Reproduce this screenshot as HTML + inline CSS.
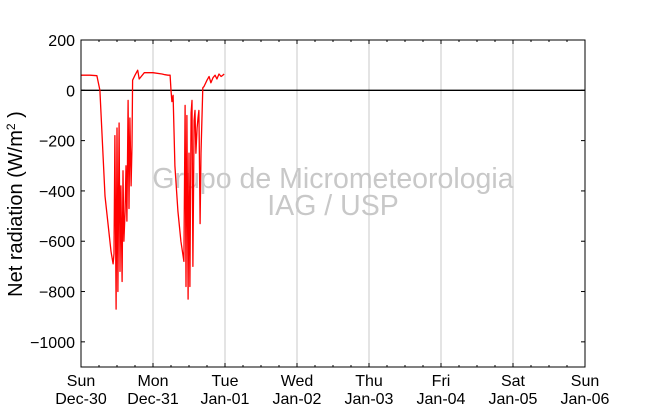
<!DOCTYPE html>
<html><head><meta charset="utf-8"><style>
body{margin:0;background:#fff;}
svg{display:block;font-family:"Liberation Sans","DejaVu Sans",sans-serif;}
</style></head><body>
<svg id="c" width="650" height="409"></svg>
<script>
const hours=[0,3,5.3,6.3,8,10,10.7,11,11.3,11.7,12,12.3,12.7,13,13.3,13.7,14,14.3,14.7,15,15.3,15.7,16,16.3,16.7,17,17.2,18,18.9,19.4,21.1,24,27,28,29,29.7,30,30.3,30.7,31.3,32.3,33.3,34.3,34.7,35,35.3,35.7,36,36.3,36.7,37,37.3,37.7,38,38.3,38.7,39,39.3,39.7,40,40.6,41,42,42.7,43.3,44,44.7,45.3,46,46.7,47.3,47.7];
const values=[60,60,58,0,-420,-640,-690,-650,-180,-870,-150,-800,-130,-720,-380,-760,-320,-600,-480,-300,-520,-40,-470,-110,-380,-220,40,60,80,45,70,70,65,62,60,60,0,-45,-20,-300,-480,-600,-680,-60,-780,-100,-830,-250,-780,-90,-40,-700,-120,-80,-250,-150,-110,-80,-530,-250,10,15,40,55,30,50,60,45,65,55,60,65];
const yTicks=[200,0,-200,-400,-600,-800,-1000];
const yTickLabels=["200","0","\u2212200","\u2212400","\u2212600","\u2212800","\u22121000"];
const dayLabels1=["Sun","Mon","Tue","Wed","Thu","Fri","Sat","Sun"];
const dayLabels2=["Dec-30","Dec-31","Jan-01","Jan-02","Jan-03","Jan-04","Jan-05","Jan-06"];
const X0=81,X1=585,Y0=40,Y1=367,ymin=-1100,ymax=200,hmax=168;
const xs=h=>X0+h*(X1-X0)/hmax;
const ys=v=>Y0+(ymax-v)*(Y1-Y0)/(ymax-ymin);
const svg=document.getElementById('c');const NS='http://www.w3.org/2000/svg';
function mk(t,a,txt){const e=document.createElementNS(NS,t);for(const k in a)e.setAttribute(k,a[k]);if(txt!==undefined)e.textContent=txt;svg.appendChild(e);return e;}
dayLabels1.forEach((d,i)=>{if(i>0&&i<7){const g=mk('line',{x1:xs(i*24),x2:xs(i*24),y1:Y0,y2:Y1,stroke:'#c8c8c8','stroke-width':1});

}});
const w1=mk('text',{x:333,y:188,'text-anchor':'middle','font-size':28.5,fill:'#c8c8c8'},'Grupo de Micrometeorologia');


const w2=mk('text',{x:333,y:215,'text-anchor':'middle','font-size':28.5,fill:'#c8c8c8'},'IAG / USP');


const z=mk('line',{x1:X0,x2:X1,y1:ys(0),y2:ys(0),stroke:'#000','stroke-width':1.3});


const pts=hours.map((h,i)=>xs(h).toFixed(1)+','+ys(values[i]).toFixed(1)).join(' ');
const pl=mk('polyline',{points:pts,fill:'none',stroke:'#ff0000','stroke-width':1.3,'stroke-linejoin':'round'});


const fr=mk('rect',{x:X0,y:Y0,width:X1-X0,height:Y1-Y0,fill:'none',stroke:'#000','stroke-width':1});


yTicks.forEach((v,i)=>{const y=ys(v);
mk('line',{x1:X0,x2:X0+4,y1:y,y2:y,stroke:'#000'});mk('line',{x1:X1,x2:X1-4,y1:y,y2:y,stroke:'#000'});
const t=mk('text',{x:X0-6,y:y+6,'text-anchor':'end','font-size':16},yTickLabels[i]);

});
for(let k=0;k<=hmax;k+=6){const x=xs(k);const len=k%24===0?4:2;
mk('line',{x1:x,x2:x,y1:Y1,y2:Y1-len,stroke:'#000'});mk('line',{x1:x,x2:x,y1:Y0,y2:Y0+len,stroke:'#000'});}
dayLabels1.forEach((d,i)=>{const x=xs(i*24);
const a=mk('text',{x:x,y:386,'text-anchor':'middle','font-size':16},d);


const b=mk('text',{x:x,y:404,'text-anchor':'middle','font-size':16},dayLabels2[i]);

});
const yt=mk('text',{transform:'translate(22,204) rotate(-90)','text-anchor':'middle','font-size':20});


yt.innerHTML='Net radiation (W/m<tspan dy="-7" font-size="12">2</tspan><tspan dy="7"> )</tspan>';
</script>
</body></html>
